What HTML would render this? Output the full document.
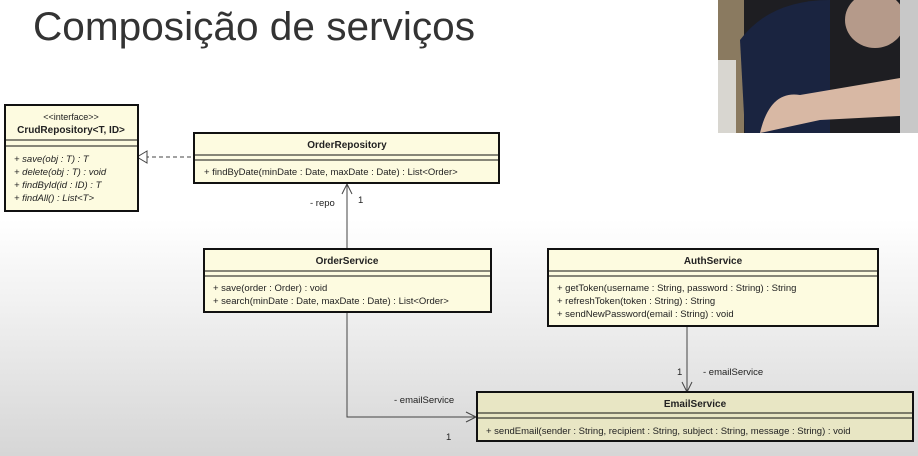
<!DOCTYPE html>
<html><head><meta charset="utf-8"><style>
html,body{margin:0;padding:0;width:918px;height:456px;overflow:hidden}
body{background:linear-gradient(#ffffff 0%,#ffffff 48%,#f0f0f0 68%,#d6d6d6 100%)}
svg{display:block}
text{font-family:"Liberation Sans",sans-serif;fill:#222}
.t{font-size:10px;font-weight:bold;text-anchor:middle}
.m{font-size:9.5px}
</style></head><body>
<svg width="918" height="456" viewBox="0 0 918 456">
<text x="33" y="40" style="font-size:40px;fill:#333" textLength="442" lengthAdjust="spacingAndGlyphs">Composição de serviços</text>
<!-- webcam -->
<rect x="718" y="0" width="200" height="133" fill="#1e1e22"/>
<rect x="718" y="0" width="26" height="133" fill="#8a7a60"/>
<rect x="718" y="60" width="18" height="73" fill="#d8d6d0"/>
<path d="M740 40 Q770 0 830 0 L830 133 L745 133 Z" fill="#1a2440"/>
<ellipse cx="875" cy="20" rx="30" ry="28" fill="#b59a8a"/>
<path d="M760 133 Q770 90 800 95 L918 75 L918 115 L820 120 Z" fill="#d8b8a4"/>
<rect x="900" y="0" width="18" height="133" fill="#c8c8c8"/>
<!-- connectors -->
<line x1="145" y1="157" x2="194" y2="157" stroke="#444" stroke-dasharray="4,3"/>
<path d="M147 151 L137 157 L147 163 Z" fill="#fff" stroke="#444"/>
<line x1="347" y1="249" x2="347" y2="184" stroke="#444"/>
<path d="M342 194 L347 184 L352 194" fill="none" stroke="#444"/>
<text x="310" y="206" class="m">- repo</text><text x="358" y="203" class="m">1</text>
<path d="M347 313 L347 417 L476 417" fill="none" stroke="#444"/>
<path d="M466 412 L476 417 L466 422" fill="none" stroke="#444"/>
<text x="394" y="403" class="m">- emailService</text><text x="446" y="440" class="m">1</text>
<line x1="687" y1="326" x2="687" y2="392" stroke="#444"/>
<path d="M682 382 L687 392 L692 382" fill="none" stroke="#444"/>
<text x="677" y="375" class="m">1</text><text x="703" y="375" class="m">- emailService</text>
<!-- CrudRepository -->
<rect x="5" y="105" width="133" height="106" fill="#fdfbe0" stroke="#111" stroke-width="2"/>
<line x1="5" y1="140" x2="138" y2="140" stroke="#111"/><line x1="5" y1="146" x2="138" y2="146" stroke="#111"/>
<text x="71" y="120" class="m" text-anchor="middle" style="font-size:9px">&lt;&lt;interface&gt;&gt;</text>
<text x="71" y="133" class="t">CrudRepository&lt;T, ID&gt;</text>
<g style="font-style:italic"><text x="14" y="162" class="m">+ save(obj : T) : T</text>
<text x="14" y="175" class="m">+ delete(obj : T) : void</text>
<text x="14" y="188" class="m">+ findById(id : ID) : T</text>
<text x="14" y="201" class="m">+ findAll() : List&lt;T&gt;</text></g>
<!-- OrderRepository -->
<rect x="194" y="133" width="305" height="50" fill="#fdfbe0" stroke="#111" stroke-width="2"/>
<line x1="194" y1="155" x2="499" y2="155" stroke="#111"/><line x1="194" y1="160" x2="499" y2="160" stroke="#111"/>
<text x="347" y="148" class="t">OrderRepository</text>
<text x="204" y="175" class="m">+ findByDate(minDate : Date, maxDate : Date) : List&lt;Order&gt;</text>
<!-- OrderService -->
<rect x="204" y="249" width="287" height="63" fill="#fdfbe0" stroke="#111" stroke-width="2"/>
<line x1="204" y1="271" x2="491" y2="271" stroke="#111"/><line x1="204" y1="276" x2="491" y2="276" stroke="#111"/>
<text x="347" y="264" class="t">OrderService</text>
<text x="213" y="291" class="m">+ save(order : Order) : void</text>
<text x="213" y="304" class="m">+ search(minDate : Date, maxDate : Date) : List&lt;Order&gt;</text>
<!-- AuthService -->
<rect x="548" y="249" width="330" height="77" fill="#fdfbe0" stroke="#111" stroke-width="2"/>
<line x1="548" y1="271" x2="878" y2="271" stroke="#111"/><line x1="548" y1="276" x2="878" y2="276" stroke="#111"/>
<text x="713" y="264" class="t">AuthService</text>
<text x="557" y="291" class="m">+ getToken(username : String, password : String) : String</text>
<text x="557" y="304" class="m">+ refreshToken(token : String) : String</text>
<text x="557" y="317" class="m">+ sendNewPassword(email : String) : void</text>
<!-- EmailService -->
<rect x="477" y="392" width="436" height="49" fill="#e8e6c4" stroke="#111" stroke-width="2"/>
<line x1="477" y1="413" x2="913" y2="413" stroke="#111"/><line x1="477" y1="418" x2="913" y2="418" stroke="#111"/>
<text x="695" y="407" class="t">EmailService</text>
<text x="486" y="434" class="m">+ sendEmail(sender : String, recipient : String, subject : String, message : String) : void</text>
</svg>
</body></html>
